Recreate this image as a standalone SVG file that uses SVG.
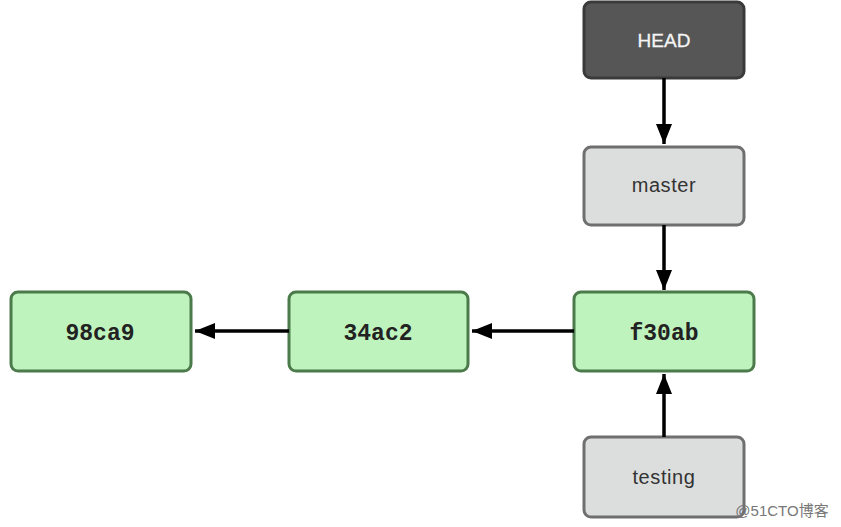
<svg xmlns="http://www.w3.org/2000/svg" width="841" height="527" viewBox="0 0 841 527">
<defs>
<marker id="ah2" viewBox="0 0 20 16" refX="20" refY="8" markerWidth="20" markerHeight="16" markerUnits="userSpaceOnUse" orient="auto"><path d="M0,0 L20,8 L0,16 z" fill="#000"/></marker>
<style>
.commit rect{fill:#bff3bd;stroke:#4b7a4b;stroke-width:3}
.commit text{font-family:"Liberation Mono","Courier New",monospace;font-weight:bold;font-size:23px;fill:#222;text-anchor:middle}
.ref rect{fill:#dcdedd;stroke:#6f6f6f;stroke-width:3}
.ref text{font-family:"Liberation Sans",Arial,sans-serif;font-size:20px;letter-spacing:0.6px;fill:#333;text-anchor:middle}
.head rect{fill:#565656;stroke:#3a3a3a;stroke-width:3}
.head text{font-family:"Liberation Sans",Arial,sans-serif;font-size:19px;fill:#f4f4f4;text-anchor:middle;stroke:#f4f4f4;stroke-width:0.3}
.conn line{stroke:#000;stroke-width:3.5;marker-end:url(#ah2)}
</style>
</defs>
<rect width="841" height="527" fill="#fff"/>
<g id="HEAD" class="head"><rect x="584" y="2" width="160" height="76" rx="7"/><text x="664" y="47">HEAD</text></g>
<g id="master" class="ref"><rect x="584" y="147" width="160" height="78" rx="7"/><text x="664" y="192">master</text></g>
<g id="f30ab" class="commit"><rect x="574" y="292" width="180" height="79" rx="7"/><text x="664" y="340">f30ab</text></g>
<g id="c34ac2" class="commit"><rect x="289" y="292" width="179" height="79" rx="7"/><text x="378" y="340">34ac2</text></g>
<g id="c98ca9" class="commit"><rect x="11" y="292" width="180" height="79" rx="7"/><text x="100" y="340">98ca9</text></g>
<g id="testing" class="ref"><rect x="584" y="437" width="160" height="80" rx="7"/><text x="664" y="484">testing</text></g>
<g id="connectors" class="conn">
<line x1="664" y1="78" x2="664" y2="144"/>
<line x1="664" y1="225" x2="664" y2="290"/>
<line x1="574" y1="331" x2="472" y2="331"/>
<line x1="289" y1="331" x2="195" y2="331"/>
<line x1="664" y1="437" x2="664" y2="374"/>
</g>
<text x="782" y="516" font-family="Liberation Sans,'Noto Sans CJK SC',sans-serif" font-size="15" fill="#777" text-anchor="middle">@51CTO博客</text>
</svg>
